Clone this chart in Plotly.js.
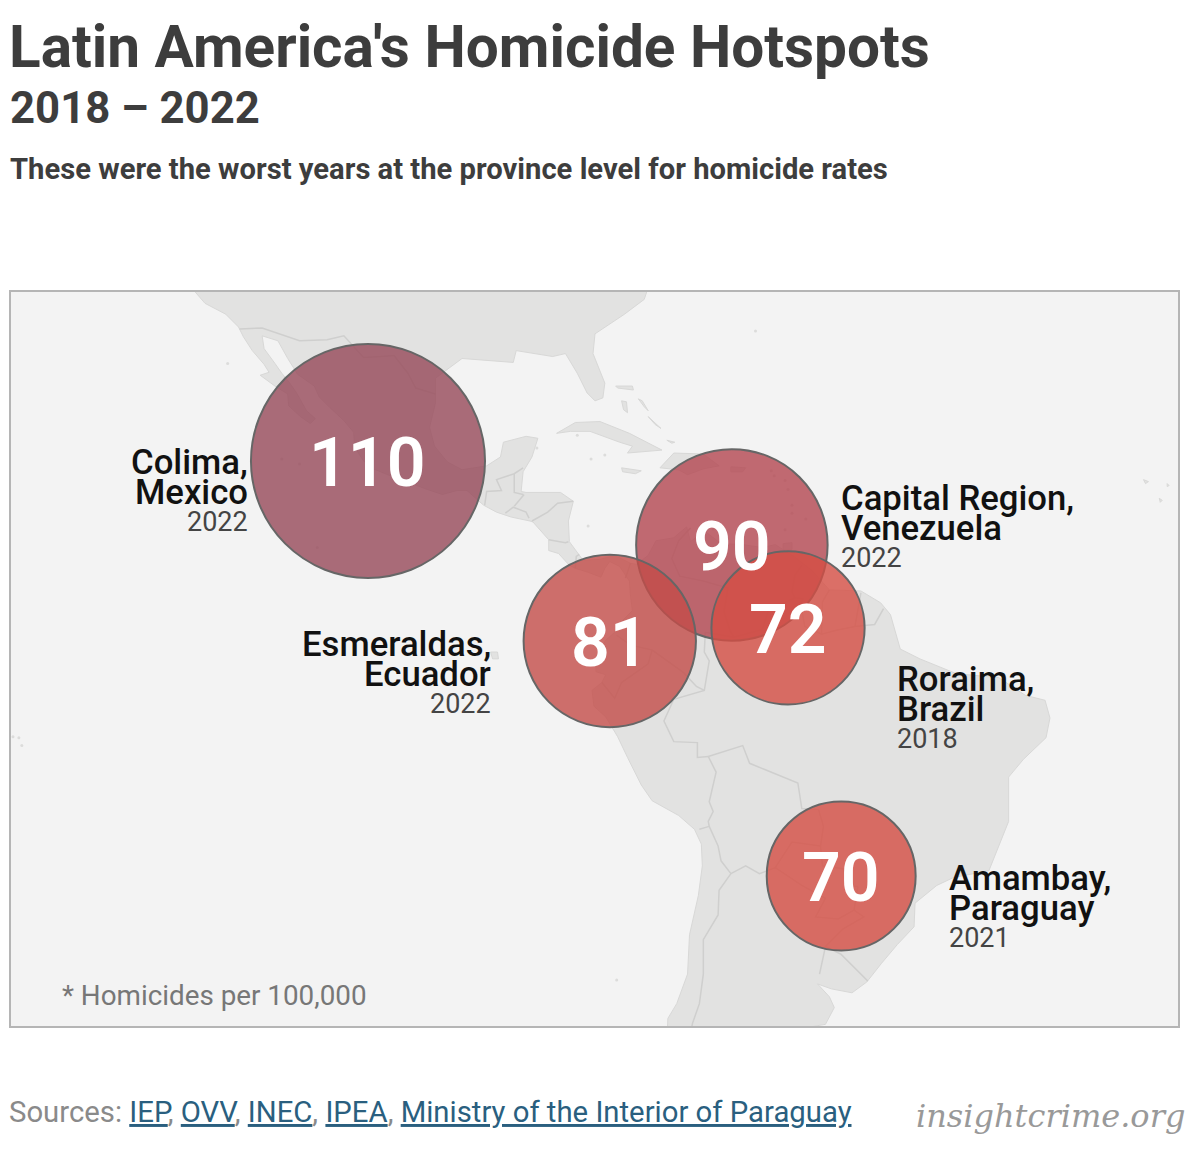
<!DOCTYPE html>
<html><head><meta charset="utf-8">
<script src="https://cdn.plot.ly/plotly-3.0.1.min.js"></script>
<style>html,body{margin:0;padding:0;background:#fff}#c{width:1200px;height:1161px}</style>
</head><body><div id="c"></div>
<script>
const provinces=["Colima,","Capital Region,","Esmeraldas,","Roraima,","Amambay,"];
const countries=["Mexico","Venezuela","Ecuador","Brazil","Paraguay"];
const years=["2022","2022","2022","2018","2021"];
const rates=[110,90,81,72,70];
const lons=[-104.05,-67.1,-79.5,-61.4,-56.0];
const lats=[19.1,10.57,0.82,2.14,-23.04];
const bubbleColors=["rgba(150,72,89,.8)","rgba(179,70,80,.8)","rgba(195,76,72,.8)","rgba(212,78,68,.8)","rgba(212,78,68,.8)"];
const labelX=[250,839,493,895,947];
const labelY=[462,498,644,679,878];
const labelAlign=["right","left","right","left","left"];
// Land outlines, [lon, lat]
const americas=[[-122.5,37.8],[-121.9,36.6],[-120.6,35.1],[-118.5,34.0],[-117.2,32.7],[-116.7,31.7],[-115.8,30.3],[-114.6,28.9],[-114.1,28.1],[-115.0,27.8],[-113.5,26.7],[-112.2,25.9],[-112.1,24.7],[-110.9,23.6],[-109.9,22.9],[-109.4,23.4],[-110.3,24.2],[-110.7,24.9],[-111.3,26.0],[-112.0,27.0],[-112.8,28.0],[-113.5,29.0],[-114.6,30.5],[-114.8,31.8],[-113.2,31.3],[-112.2,29.5],[-111.2,27.9],[-109.5,26.7],[-109.0,25.6],[-107.9,24.5],[-106.5,23.2],[-105.5,22.0],[-105.4,20.5],[-104.5,19.1],[-103.5,18.3],[-101.8,17.6],[-100,16.9],[-98,16.2],[-96.5,15.7],[-95,16.1],[-94,16.1],[-92.3,14.6],[-91,13.9],[-89.5,13.4],[-87.6,13.0],[-87.3,12.9],[-85.7,11.1],[-85.7,10],[-84.7,9.7],[-83.6,8.5],[-83,8.2],[-81.7,7.8],[-80.4,7.3],[-80,8.2],[-79.5,8.9],[-78.5,8.4],[-78.1,7.8],[-77.5,6.9],[-77.4,5.5],[-77.2,3.9],[-78.6,2.5],[-79,1.7],[-80.0,0.8],[-80.4,-0.4],[-80.9,-1.1],[-80.9,-2.3],[-79.9,-2.6],[-80.3,-3.4],[-81.3,-4.2],[-81.1,-5.8],[-79.9,-6.9],[-78.7,-8.9],[-77.7,-11],[-76.3,-13.8],[-75.2,-15.4],[-72.5,-16.9],[-70.9,-18.3],[-70.2,-19.8],[-70.1,-22],[-70.5,-25],[-71.4,-29],[-71.6,-33],[-72.7,-36],[-73.6,-37.5],[-73.7,-40],[-62,-40],[-62.3,-38.9],[-57.6,-38.1],[-56.7,-36.4],[-57.2,-35.3],[-58.4,-34.0],[-57,-34.5],[-54.9,-34.9],[-53.4,-33.8],[-51.9,-31.9],[-50.3,-30],[-48.6,-28.2],[-48.5,-25.8],[-46.3,-24],[-44.6,-23.2],[-41,-22.5],[-40,-20],[-39,-17.5],[-39,-13],[-37.5,-11.2],[-35.2,-9],[-34.8,-7],[-35.3,-5.2],[-37.3,-4.7],[-40,-2.9],[-44.3,-2.5],[-48,-1],[-50,0],[-51,3.5],[-52,4.7],[-54,5.9],[-57.2,6],[-59,8],[-60.8,9.4],[-62.7,10.6],[-64,10.3],[-66,10.6],[-68.2,10.7],[-69.9,12],[-71.3,10.9],[-71.7,12.4],[-73,11.3],[-74.8,11],[-75.6,9.5],[-76.8,8.6],[-77.4,8.7],[-79,9.5],[-80.5,9.1],[-82.2,9.0],[-83.6,10.9],[-83.7,13],[-83.2,15],[-84.5,15.9],[-88,15.9],[-88.5,16],[-88.3,18],[-87.4,19.5],[-86.8,21.4],[-88,21.6],[-90.3,21],[-90.6,19.5],[-92,18.6],[-94.5,18.2],[-96,19],[-97.3,20.6],[-97.8,22.5],[-97.2,25],[-97.2,27.5],[-94.5,29.5],[-91,29.2],[-89.3,29.1],[-89,30.3],[-85.3,29.7],[-84,30],[-82.8,28],[-81.8,26],[-81,25.2],[-80.2,25.5],[-80,27],[-81.2,30],[-81,32],[-78,34],[-76,35.5],[-75.5,37],[-75,40],[-122,40]];
const cuba=[[-84.9,21.9],[-83,23],[-80.5,23.1],[-77.5,21.9],[-74.2,20.2],[-77.7,19.9],[-77.2,20.6],[-78.5,21],[-81.5,22.1],[-83.5,22.1]];
const hispaniola=[[-74.4,18.4],[-73,19.9],[-70,19.8],[-68.4,18.6],[-70,18.3],[-71.6,17.7],[-72.5,18.2]];
const jamaica=[[-78.3,18.4],[-76.3,18.1],[-76.9,17.8],[-78.2,18]];
const puertoRico=[[-67.2,18.5],[-65.7,18.4],[-66,18],[-67.2,18]];
const trinidad=[[-61.9,10.7],[-61,10.8],[-61,10.1],[-61.9,10.1]];
const bahamasA=[[-78.3,25.2],[-77.8,25.1],[-77.7,24],[-78.1,24.3]];
const bahamasB=[[-78.9,26.7],[-77.2,26.7],[-77.1,26.3],[-78.7,26.5]];
const bahamasC=[[-76.6,25.4],[-76.2,25.2],[-75.6,24.2],[-76,24.6]];
const bahamasD=[[-75.6,23.6],[-75,23],[-74.3,22.4],[-74.9,22.8]];
const turks=[[-73.7,21.2],[-72.9,21],[-73.2,20.9]];
const galapagos=[[-91.6,-0.3],[-90.9,-0.3],[-90.8,-1],[-91.4,-1]];
const capeVerdeA=[[-25.3,17.2],[-24.8,17],[-25.1,16.8]];
const capeVerdeB=[[-23.7,15.3],[-23.4,15.1],[-23.6,14.9]];
const capeVerdeC=[[-22.9,16.8],[-22.7,16.6],[-22.9,16.5]];
const smallIslands=[[-61.7,17.1],[-61.4,16.2],[-61,14.6],[-61,13.8],[-59.6,13.2],[-61.7,12.1],[-62.8,17.6],[-63.1,18.1],[-118.3,29],[-111,18.8],[-112.8,19.3],[-78.8,-33.6],[-109.2,10.3],[-81.4,19.3],[-80,19.7],[-69,12.2],[-70,12.5],[-68.3,12.2],[-81.7,12.5],[-139.5,-9],[-140.1,-8.9],[-139.2,-9.8],[-64.7,32.3],[-86.9,20.4],[-82.8,21.7]];
const landShapes=[americas,cuba,hispaniola,jamaica,puertoRico,trinidad,bahamasA,bahamasB,bahamasC,bahamasD,turks,galapagos,capeVerdeA,capeVerdeB,capeVerdeC];
// Land borders, [lon, lat]
const borders=[
[[-117.1,32.5],[-114.8,32.6],[-111,31.3],[-108.2,31.4],[-106.5,31.8],[-104.5,29.6],[-102.7,29.7],[-101.4,29.8],[-100,28],[-99.2,26.5],[-97.2,25.9]],
[[-92.2,14.6],[-92,16],[-90.5,16.1],[-91,17.2],[-89.2,17.8],[-88.3,18.4]],
[[-89.2,17.8],[-89.2,15.9],[-88.3,15.7]],
[[-90.1,13.8],[-89.3,14.4],[-88,13.9],[-87.7,13.3]],
[[-89.2,14.5],[-88.2,15.7]],
[[-87.4,13],[-85.8,13.9],[-84.8,14.8],[-83.2,15]],
[[-85.7,11.1],[-84,10.8],[-83.7,10.9]],
[[-83,8.2],[-82.9,9.4],[-82.6,9.6]],
[[-77.9,7.2],[-77.4,8.7]],
[[-71.3,12.3],[-72.5,11],[-73.2,9.2],[-72.4,7.4],[-70,6.9],[-67.5,6.2],[-67.9,3.8],[-67.3,1.9],[-66.9,1.2]],
[[-60,8.5],[-60.7,7.5],[-61,5.8],[-60.7,5.2],[-59.9,5.1],[-60.1,4.5]],
[[-64,2],[-63.4,3.9],[-60.7,5.2]],
[[-66.9,1.2],[-64,2]],
[[-60.1,4.5],[-59.7,2.3],[-58,1.5],[-56.5,1.9],[-54.6,2.3],[-52.6,2.5],[-51.7,4.1]],
[[-57.2,6],[-57.9,4.8],[-58,1.5]],
[[-54,5.7],[-54.6,2.3]],
[[-66.9,1.2],[-69.8,1.7],[-69.9,-0.3],[-69.4,-1.2],[-69.9,-4.2],[-73,-5.1],[-74,-7.3],[-73,-9.4],[-70.6,-9.5],[-70.6,-11],[-69.5,-10.9]],
[[-69.9,-4.2],[-70.7,-3.8],[-72,-2.4],[-75.2,-0.1],[-77.4,0.4],[-78.8,1.4]],
[[-75.2,-0.1],[-75.6,-1.5],[-78.3,-3.4],[-79,-5],[-80.3,-3.4]],
[[-69.5,-10.9],[-68.7,-12.5],[-69.4,-15.5],[-69,-16.5],[-69.5,-17.5],[-69.4,-18],[-70.4,-18.3]],
[[-69.5,-10.9],[-66,-9.8],[-65.3,-11.6],[-62,-13],[-60.4,-13.6],[-60,-16.2],[-58.3,-16.3],[-57.8,-18],[-58.1,-20],[-57.9,-22],[-55.8,-22.3],[-55.4,-24],[-54.3,-24.1]],
[[-69.4,-18],[-68.5,-20],[-68.2,-21.5],[-67.2,-22.8],[-65.7,-22],[-64.3,-22.8],[-62.7,-22.2],[-61,-19.6],[-58.1,-20]],
[[-62.7,-22.2],[-60,-24],[-57.6,-25.3],[-58.6,-27.2],[-56.3,-27.4],[-54.7,-26.5],[-54.3,-24.1]],
[[-67.2,-22.8],[-68.4,-24.5],[-68.5,-27],[-70,-29.5],[-70,-33],[-70.4,-36],[-71.1,-38],[-71.5,-40]],
[[-54.7,-26.5],[-53.7,-27.2],[-55.8,-28.4],[-57.6,-30.2],[-58.2,-33]],
[[-57.6,-30.2],[-56,-31],[-53.3,-33.7]]
];
const W=1200,H=1161;
const closed=s=>s.concat([s[0]]);
const flat=(list,k)=>list.flatMap(s=>s.map(p=>p[k]).concat([null]));
const landLon=flat(landShapes.map(closed),0), landLat=flat(landShapes.map(closed),1);
const ann=[];
function t(text,x,y,size,color,align,weight,family){
  ann.push({xref:"paper",yref:"paper",x:x/W,y:1-y/H,text:text,showarrow:false,xanchor:align,yanchor:"middle",
    font:{family:family||"Roboto",size:size,color:color,weight:weight||400}});
}
provinces.forEach((p,i)=>{
  t(p,labelX[i],labelY[i],34.7,"#111",labelAlign[i],500);
  t(countries[i],labelX[i],labelY[i]+30,34.7,"#111",labelAlign[i],500);
  t(years[i],labelX[i],labelY[i]+60,27,"#444",labelAlign[i],400);
});
t("2018 – 2022",8,108,43.7,"#3d3d3d","left",700);
t("These were the worst years at the province level for homicide rates",8,169,29.2,"#3d3d3d","left",700);
t("* Homicides per 100,000",60,995,27.8,"#777","left",400);
const link=s=>'<a href="https://insightcrime.org" style="color:#2a5f7f;text-decoration:underline">'+s+'</a>';
t('Sources: '+link("IEP")+', '+link("OVV")+', '+link("INEC")+', '+link("IPEA")+', '+link("Ministry of the Interior of Paraguay"),7,1112,29.3,"#8a8a8a","left",400);
t("<i>insightcrime.org</i>",1187,1116,32,"#999","right",400,"DejaVu Serif");
rates.forEach((r,i)=>ann.push({xref:"x",yref:"y",x:lons[i],y:lats[i],yshift:-2,text:String(r),showarrow:false,xanchor:"center",yanchor:"middle",
  font:{family:"Roboto",size:68,color:"#fff",weight:600}}));
const axis=(range,dom)=>({range:range,domain:dom,showgrid:false,zeroline:false,showticklabels:false,ticks:"",showline:true,mirror:true,linecolor:"#b5b5b5",linewidth:2});
Plotly.newPlot("c",[
 {type:"scatter",mode:"lines",x:landLon,y:landLat,fill:"toself",fillcolor:"#e2e2e1",line:{color:"#d8d8d7",width:1},hoverinfo:"skip"},
 {type:"scatter",mode:"lines",x:flat(borders,0),y:flat(borders,1),line:{color:"#cfcfce",width:1.5},hoverinfo:"skip"},
 {type:"scatter",mode:"markers",x:smallIslands.map(p=>p[0]),y:smallIslands.map(p=>p[1]),marker:{size:3,color:"#dcdcdb"},hoverinfo:"skip"},
 {type:"scatter",mode:"markers",x:lons,y:lats,
  marker:{size:rates,sizemode:"diameter",sizeref:0.47,opacity:1,color:bubbleColors,line:{color:"#666",width:2}},hoverinfo:"skip"}
],{
  width:W,height:H,margin:{l:0,r:0,t:0,b:0},paper_bgcolor:"#fff",plot_bgcolor:"#f3f3f3",showlegend:false,
  title:{text:"Latin America's Homicide Hotspots",x:9/W,xanchor:"left",y:1-47/H,yanchor:"middle",font:{family:"Roboto",size:58.5,color:"#3d3d3d",weight:700}},
  xaxis:axis([-140.3,-21.8],[11/W,1178/W]),
  yaxis:axis([-38.27,36.25],[1-1026/H,1-292/H]),
  annotations:ann
},{displayModeBar:false,staticPlot:true});
</script></body></html>
